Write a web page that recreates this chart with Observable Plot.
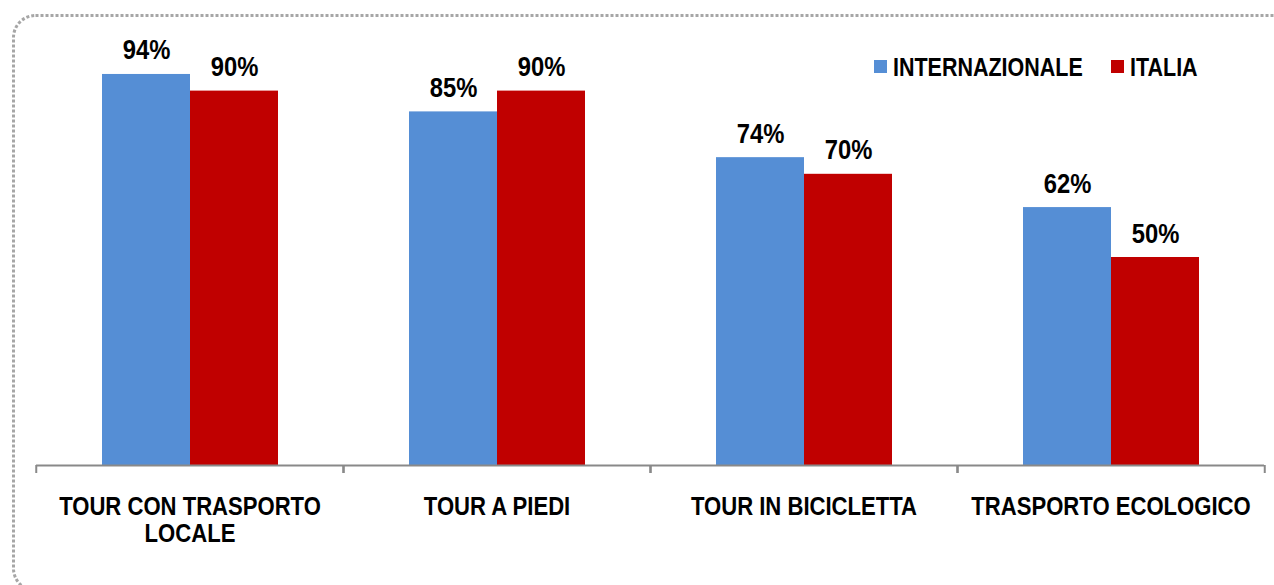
<!DOCTYPE html>
<html>
<head>
<meta charset="utf-8">
<script src="https://cdn.jsdelivr.net/npm/d3@7"></script>
<script src="https://cdn.jsdelivr.net/npm/@observablehq/plot@0.6"></script>
<style>
  html, body { margin: 0; padding: 0; background: #fff; }
  #wrap { position: relative; width: 1274px; height: 585px; overflow: hidden; }
  #wrap svg.plot { position: absolute; left: 0; top: 0; }
  #overlay { position: absolute; left: 0; top: 0; pointer-events: none; }
</style>
</head>
<body>
<div id="wrap"></div>
<script>
const categories = ["TOUR CON TRASPORTO\nLOCALE", "TOUR A PIEDI", "TOUR IN BICICLETTA", "TRASPORTO ECOLOGICO"];
const series = ["INTERNAZIONALE", "ITALIA"];
const internazionale = [94, 85, 74, 62];
const italia = [90, 90, 70, 50];
const colors = ["#558ED5", "#C00000"];

const data = categories.flatMap((c, i) => [
  {category: c, series: series[0], value: internazionale[i]},
  {category: c, series: series[1], value: italia[i]}
]);

const W = 1274, H = 585, mL = 35, mR = 9;
const step = (W - mL - mR) / categories.length;
const font = "'Liberation Sans', Arial, sans-serif";
const condense = 0.85;

const chart = Plot.plot({
  width: W, height: H,
  marginLeft: mL, marginRight: mR, marginTop: 49, marginBottom: 120,
  style: {fontFamily: font, fontWeight: "bold", fontSize: "26px", color: "#000", background: "transparent"},
  fx: {domain: categories, padding: 0, axis: null, label: null},
  x: {domain: series, paddingInner: 0, paddingOuter: 0.737, axis: null},
  y: {domain: [0, 100], axis: null},
  color: {domain: series, range: colors},
  marks: [
    Plot.barY(data, {fx: "category", x: "series", y: "value", fill: "series"}),
    Plot.text(data, {fx: "category", x: "series", y: "value", text: d => d.value + "%",
      lineAnchor: "bottom", dy: -15, fontSize: 28, fontWeight: "bold", fill: "#000"}),
    Plot.ruleY([0], {stroke: "#898989", strokeWidth: 2}),
    Plot.axisFx({anchor: "bottom", tickSize: 8, dx: -step / 2, tickFormat: () => "", stroke: "#898989", strokeWidth: 2, label: null}),
    Plot.axisFx({anchor: "bottom", tickSize: 8, dx: step / 2, tickFormat: () => "", stroke: "#898989", strokeWidth: 2, label: null}),
    Plot.axisFx({anchor: "bottom", tickSize: 0, tickPadding: 30, label: null, fontSize: 26, fontWeight: "bold", fill: "#000", lineHeight: 1.04})
  ]
});
chart.classList.add("plot");
document.getElementById("wrap").appendChild(chart);

// emulate the narrow bold face of the original by squeezing each text horizontally about its anchor
function condenseText(el, k) {
  let tr = el.getAttribute("transform");
  if (!tr) {
    const x = +(el.getAttribute("x") || 0), y = +(el.getAttribute("y") || 0);
    el.removeAttribute("x"); el.removeAttribute("y");
    tr = `translate(${x},${y})`;
  }
  el.setAttribute("transform", `${tr} scale(${k},1)`);
}
d3.select(chart).selectAll("text").each(function() {
  if (this.textContent.trim() !== "") condenseText(this, condense);
});

// overlay: legend + dotted rounded border
const ov = d3.select("#wrap").append("svg").attr("id", "overlay").attr("width", W).attr("height", H)
  .style("font-family", font).style("font-weight", "bold").style("font-size", "25px");

const legendX = [874, 1111];
series.forEach((s, i) => {
  ov.append("rect").attr("x", legendX[i]).attr("y", 60).attr("width", 13).attr("height", 13).attr("fill", colors[i]);
  const t = ov.append("text").attr("x", legendX[i] + 19).attr("y", 76).attr("fill", "#000").text(s);
  condenseText(t.node(), 0.86);
});

ov.append("rect").attr("x", 13.5).attr("y", 15.5).attr("width", W + 10).attr("height", 575)
  .attr("rx", 22).attr("fill", "none").attr("stroke", "#a6a6a6").attr("stroke-width", 3)
  .attr("stroke-dasharray", "3 2");
</script>
</body>
</html>
